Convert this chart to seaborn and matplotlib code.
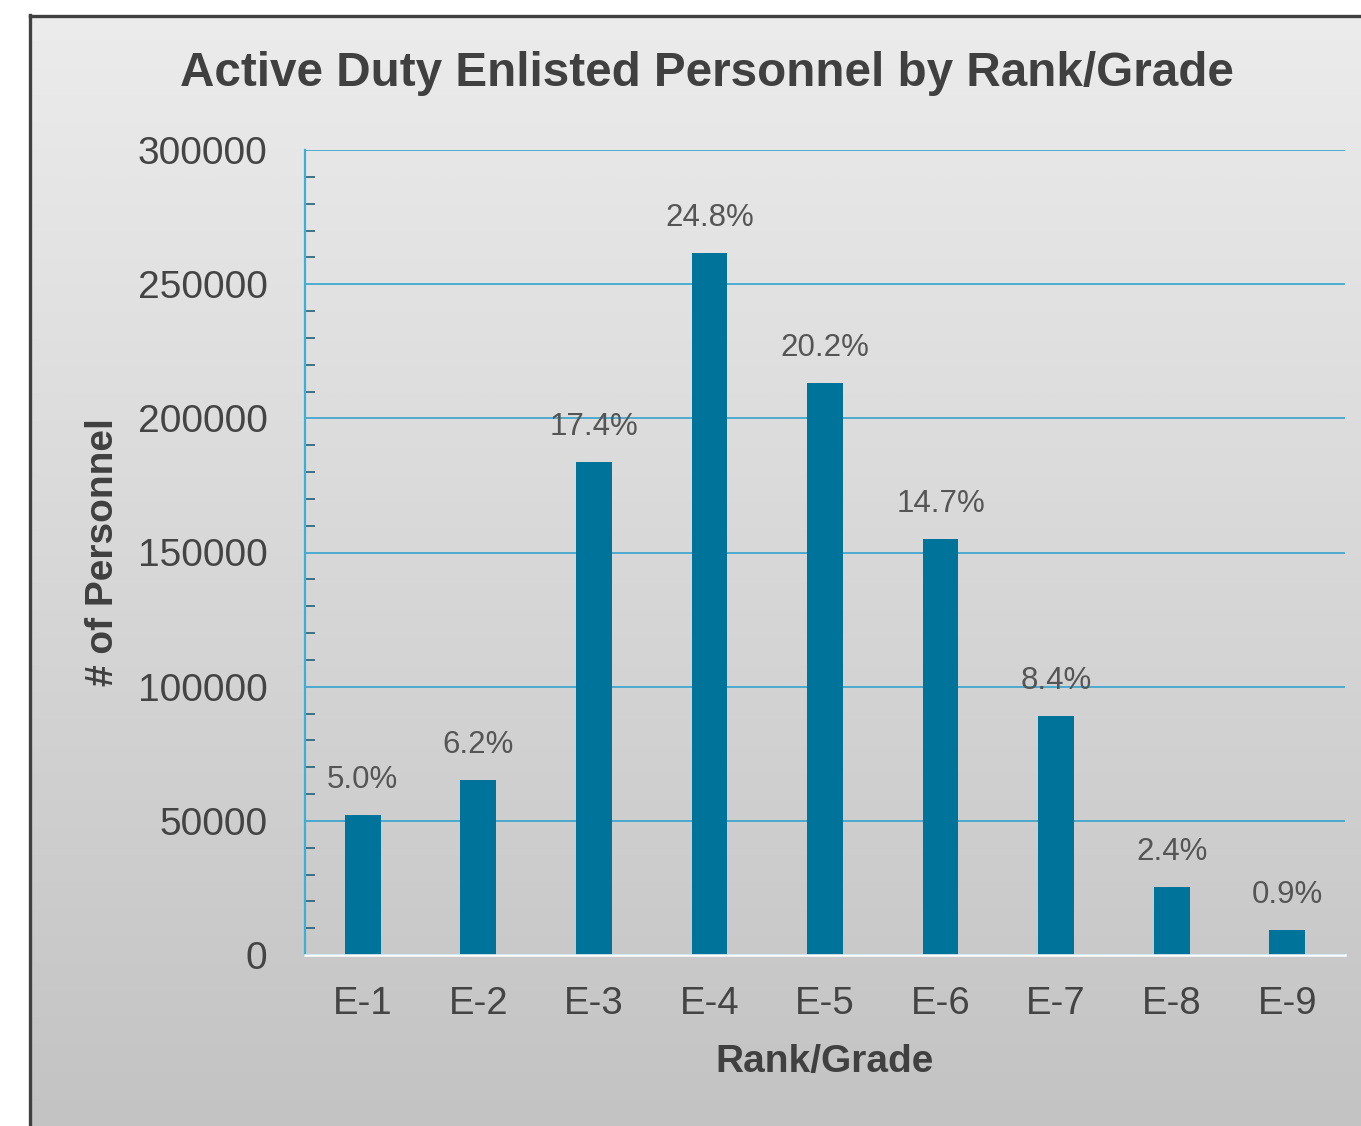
import numpy as np
import matplotlib
matplotlib.use("Agg")
import matplotlib.pyplot as plt
from matplotlib.ticker import MultipleLocator
import seaborn as sns


# Chart data

ranks = ["E-1", "E-2", "E-3", "E-4", "E-5", "E-6", "E-7", "E-8", "E-9"]

personnel = [52200, 65200, 183700, 261600, 213200, 155000, 89000, 25300, 9300]

share_labels = ["5.0%", "6.2%", "17.4%", "24.8%", "20.2%",
                "14.7%", "8.4%", "2.4%", "0.9%"]


# Style

sns.set_style("white")
plt.rcParams["font.family"] = ["Liberation Sans", "DejaVu Sans"]

W, H = 1361, 1126
fig = plt.figure(figsize=(W / 100, H / 100), dpi=100)
fig.patch.set_facecolor("white")

# Gradient background panel with dark border (left/top)

bg = fig.add_axes([0, 0, 1, 1], zorder=-5)
bg.axis("off")

grad = np.linspace(0.925, 0.765, 256).reshape(-1, 1)
bg.imshow(
    np.dstack([grad, grad, grad]),
    extent=[30, W, H, 15],
    aspect="auto",
    interpolation="bicubic"
)
bg.plot([30.5, 30.5], [H, 15], color="#404040", lw=2.4, solid_capstyle="projecting")
bg.plot([30.5, W], [15.5, 15.5], color="#404040", lw=2.4, solid_capstyle="projecting")
bg.set_xlim(0, W)
bg.set_ylim(H, 0)

# Bar chart

ax = fig.add_axes([305 / W, (H - 955) / H, 1040 / W, 805 / H])
ax.set_facecolor("none")

sns.barplot(
    x=ranks,
    y=personnel,
    color="#00739a",
    saturation=1,
    width=0.31,
    edgecolor="none",
    linewidth=0,
    ax=ax,
    zorder=3
)

for i, (val, lab) in enumerate(zip(personnel, share_labels)):
    ax.annotate(
        lab,
        xy=(i, val),
        xytext=(0, 25),
        textcoords="offset points",
        ha="center",
        va="center",
        fontsize=22.5,
        color="#555555",
        zorder=4
    )

ax.set_ylim(0, 300000)
ax.set_xlim(-0.5, len(ranks) - 0.5)

ax.yaxis.set_major_locator(MultipleLocator(50000))
ax.yaxis.set_minor_locator(MultipleLocator(10000))

ax.grid(axis="y", which="major", color="#35a3cc", lw=1.2, zorder=1)
ax.set_axisbelow(True)

for side in ["top", "right"]:
    ax.spines[side].set_visible(False)

ax.spines["left"].set_color("#3ab0d6")
ax.spines["left"].set_linewidth(1.6)
ax.spines["bottom"].set_color("white")
ax.spines["bottom"].set_linewidth(1.8)
ax.spines["bottom"].set_zorder(5)

ax.tick_params(axis="y", which="major", length=0, pad=27,
               labelsize=28, labelcolor="#444444")
ax.tick_params(axis="y", which="minor", length=7, width=1.2,
               direction="in", color="#245f75", left=True)
ax.tick_params(axis="x", length=0, pad=22, labelsize=27.5,
               labelcolor="#444444")

ax.set_xlabel("Rank/Grade", fontsize=28, fontweight="bold",
              color="#404040", labelpad=16)
ax.set_ylabel("# of Personnel", fontsize=28, fontweight="bold",
              color="#404040", labelpad=12)

fig.text(707 / W, 1 - 74 / H, "Active Duty Enlisted Personnel by Rank/Grade",
         ha="center", va="center", fontsize=34.3, fontweight="bold",
         color="#404040")

fig.savefig("out.png", dpi=100)
plt.close(fig)
